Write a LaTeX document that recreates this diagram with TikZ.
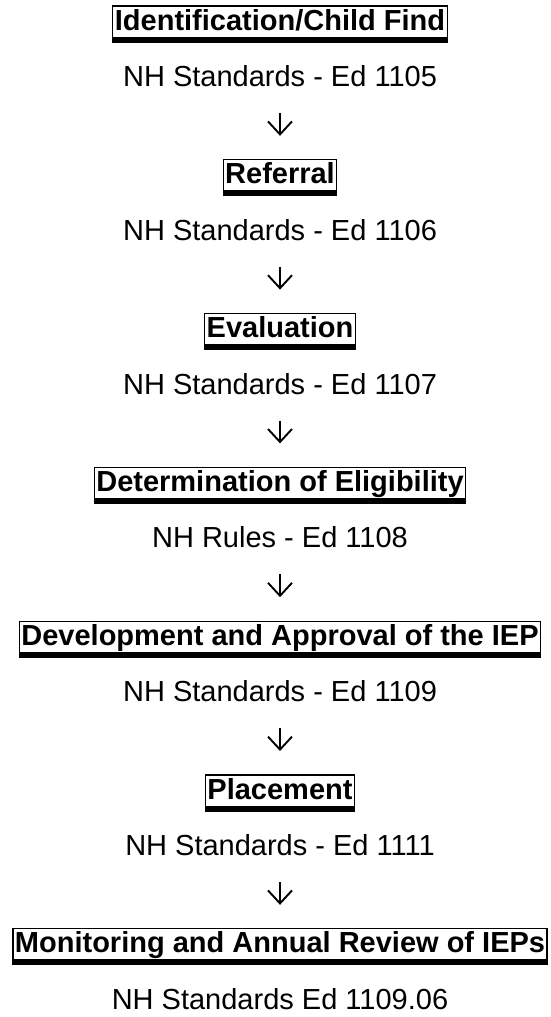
\documentclass[tikz,border=0pt]{standalone}
\usepackage{fontspec}
\setmainfont{Liberation Sans}
\usetikzlibrary{arrows.meta, positioning}

\begin{document}
\begin{tikzpicture}[
    stage/.style={draw, line width=1.2pt, outer sep=0pt, inner xsep=2pt, inner ysep=1.5pt, text height=22.5pt, text depth=10.5pt, font=\fontsize{29}{34}\selectfont\bfseries, path picture={\draw[line width=11pt] (path picture bounding box.south west) -- (path picture bounding box.south east);}},
    standard/.style={inner sep=0pt, outer sep=0pt, text height=22pt, text depth=2pt, font=\fontsize{29}{34}\selectfont},
    arrow/.style={-{Straight Barb[length=13pt,width=24pt]}, line width=1.9pt, shorten <=24.5pt, shorten >=24pt}
]
    \useasboundingbox (0,0) rectangle (550pt,-1017pt);

    \node[stage, anchor=north] (s1) at (280pt,-6pt) {Identification/Child Find};
    \node[standard, below=22.5pt of s1] (n1) {NH Standards - Ed 1105};
    \node[stage, below=71.3pt of n1] (s2) {Referral};
    \node[standard, below=22.5pt of s2] (n2) {NH Standards - Ed 1106};
    \node[stage, below=71.3pt of n2] (s3) {Evaluation};
    \node[standard, below=22.5pt of s3] (n3) {NH Standards - Ed 1107};
    \node[stage, below=71.3pt of n3] (s4) {Determination of Eligibility};
    \node[standard, below=22.5pt of s4] (n4) {NH Rules - Ed 1108};
    \node[stage, below=71.3pt of n4] (s5) {Development and Approval of the IEP};
    \node[standard, below=22.5pt of s5] (n5) {NH Standards - Ed 1109};
    \node[stage, below=71.3pt of n5] (s6) {Placement};
    \node[standard, below=22.5pt of s6] (n6) {NH Standards - Ed 1111};
    \node[stage, below=71.3pt of n6] (s7) {Monitoring and Annual Review of IEPs};
    \node[standard, below=22.5pt of s7] (n7) {NH Standards Ed 1109.06};

    % Steps
    \draw[arrow] (n1) -- (s2);
    \draw[arrow] (n2) -- (s3);
    \draw[arrow] (n3) -- (s4);
    \draw[arrow] (n4) -- (s5);
    \draw[arrow] (n5) -- (s6);
    \draw[arrow] (n6) -- (s7);
\end{tikzpicture}
\end{document}
